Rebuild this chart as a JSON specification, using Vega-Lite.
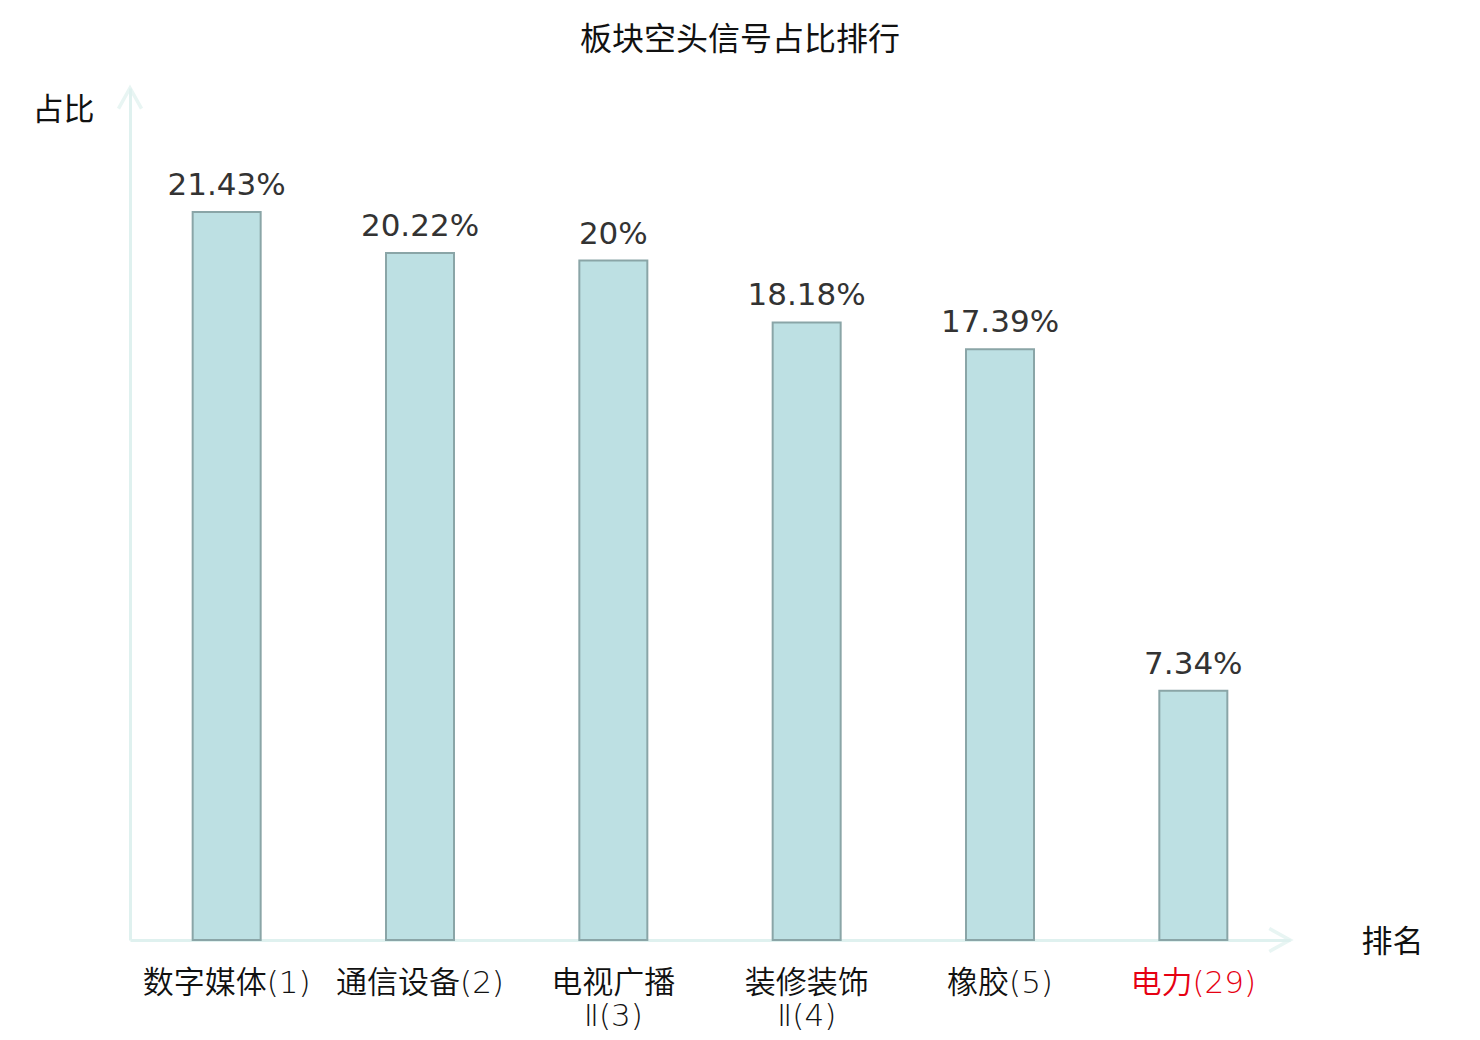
{
  "$schema": "https://vega.github.io/schema/vega-lite/v6.json",
  "autosize": {"type": "none"},
  "padding": {"left": 130, "top": 88, "right": 190, "bottom": 100},
  "width": 1160,
  "height": 852,
  "background": "white",
  "title": {
    "text": "板块空头信号占比排行",
    "font": "Noto Sans CJK SC",
    "fontSize": 32,
    "fontWeight": "normal",
    "color": "#111111",
    "anchor": "middle",
    "dx": 30,
    "offset": 24
  },
  "data": {
    "values": [
      {"sector": "数字媒体(1)", "ratio": 21.43, "label": "21.43%"},
      {"sector": "通信设备(2)", "ratio": 20.22, "label": "20.22%"},
      {"sector": "电视广播Ⅱ(3)", "ratio": 20.0, "label": "20%"},
      {"sector": "装修装饰Ⅱ(4)", "ratio": 18.18, "label": "18.18%"},
      {"sector": "橡胶(5)", "ratio": 17.39, "label": "17.39%"},
      {"sector": "电力(29)", "ratio": 7.34, "label": "7.34%"}
    ]
  },
  "encoding": {
    "x": {
      "field": "sector",
      "type": "nominal",
      "sort": null,
      "scale": {"paddingInner": 0, "paddingOuter": 0},
      "axis": {
        "title": "排名",
        "titleFont": "Noto Sans CJK SC",
        "titleFontSize": 31,
        "titleFontWeight": "normal",
        "titleColor": "#111111",
        "titleAngle": 0,
        "titleAlign": "center",
        "titleBaseline": "middle",
        "titleX": 1262,
        "titleY": 2,
        "labelAngle": 0,
        "labelFont": "DejaVu Sans, Noto Sans CJK SC",
        "labelFontWeight": 350,
        "labelFontSize": 31,
        "labelColor": {"expr": "datum.label == '电力(29)' ? '#e60012' : '#111111'"},
        "labelExpr": "length(datum.label) > 7 ? [substring(datum.label, 0, 4), substring(datum.label, 4)] : datum.label",
        "labelLineHeight": 33,
        "labelPadding": 28,
        "labelBaseline": "top",
        "ticks": false,
        "domainColor": "#dff1ef",
        "domainWidth": 3,
        "grid": false
      }
    },
    "y": {
      "field": "ratio",
      "type": "quantitative",
      "scale": {"domain": [0, 25.08], "nice": false},
      "axis": {
        "title": "占比",
        "titleFont": "Noto Sans CJK SC",
        "titleFontSize": 31,
        "titleFontWeight": "normal",
        "titleColor": "#111111",
        "titleAngle": 0,
        "titleAlign": "center",
        "titleBaseline": "middle",
        "titleX": -67,
        "titleY": 22,
        "labels": false,
        "ticks": false,
        "grid": false,
        "domainColor": "#dff1ef",
        "domainWidth": 3
      }
    }
  },
  "layer": [
    {
      "mark": {"type": "bar", "width": 68, "fill": "#bde0e3", "stroke": "#8aa5a7", "strokeWidth": 2}
    },
    {
      "mark": {"type": "text", "font": "DejaVu Sans", "fontSize": 31, "color": "#333333", "baseline": "alphabetic", "dy": -17},
      "encoding": {"text": {"field": "label"}}
    },
    {
      "data": {"values": [{"axis": "y"}]},
      "mark": {"type": "point", "shape": "M-1,1.8L0,0L1,1.8", "size": 529, "filled": false, "stroke": "#dff1ef", "strokeWidth": 3.5},
      "encoding": {"x": {"value": 0}, "y": {"value": 0}}
    },
    {
      "data": {"values": [{"axis": "x"}]},
      "mark": {"type": "point", "shape": "M-1.8,-1L0,0L-1.8,1", "size": 529, "filled": false, "stroke": "#dff1ef", "strokeWidth": 3.5},
      "encoding": {"x": {"value": "width"}, "y": {"value": "height"}}
    }
  ],
  "config": {"view": {"stroke": null}}
}
